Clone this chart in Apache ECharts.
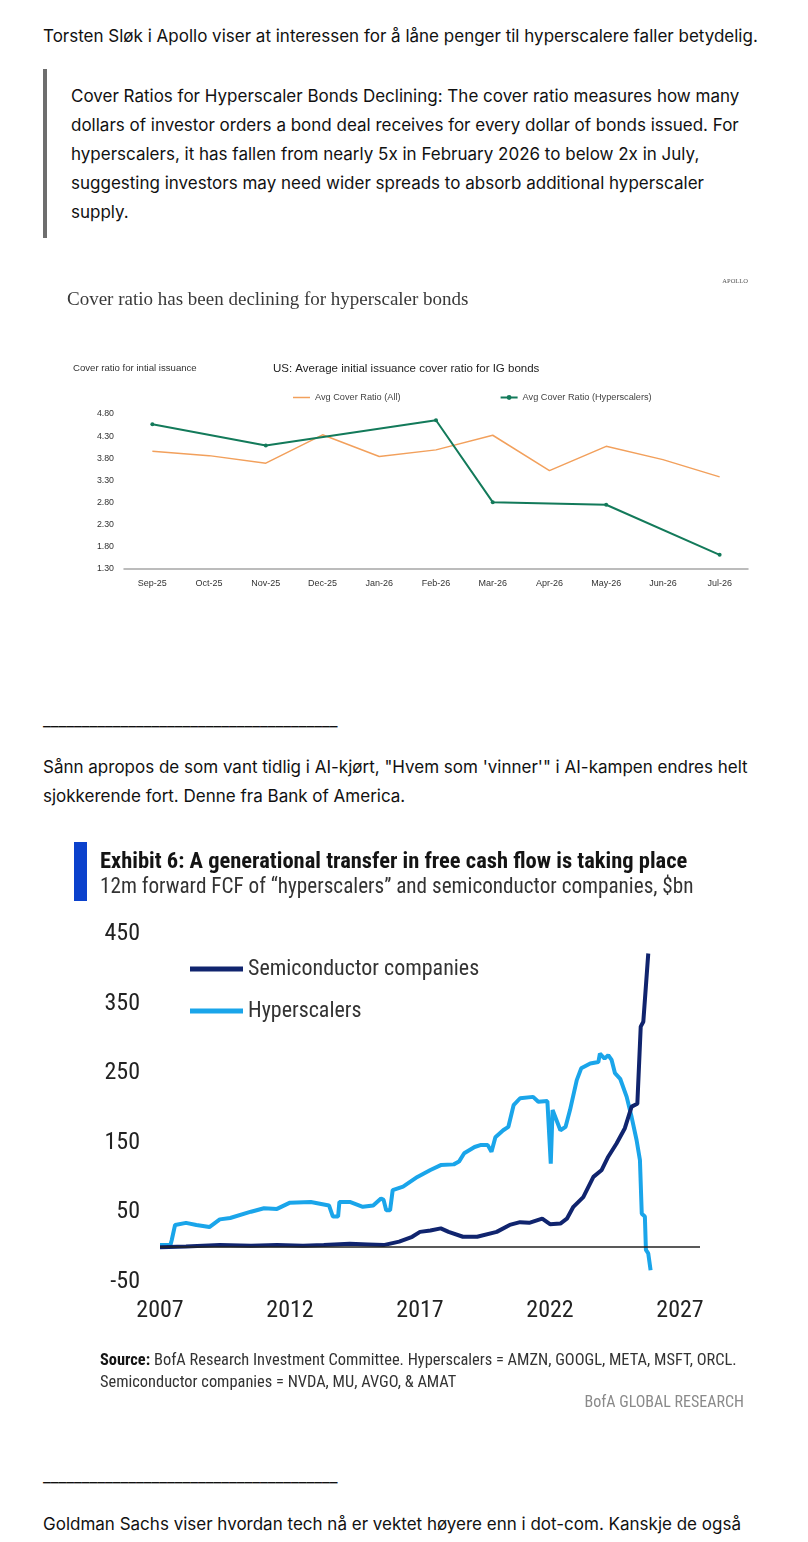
<!DOCTYPE html>
<html lang="no">

<head>
    <meta charset="UTF-8">
    <title>Hyperscalere</title>
    <script type="text/javascript" src="https://cdn.jsdelivr.net/npm/echarts@6/dist/echarts.min.js"></script>
    <style>
        body { margin: 0; background: #fff; width: 808px; height: 1542px; position: relative; overflow: hidden;
               font-family: Inter, "Noto Sans", sans-serif; font-size: 17px; color: #111; }
        .t { position: absolute; left: 43px; white-space: nowrap; line-height: 29px; }
        .bar { position: absolute; left: 43px; top: 69px; width: 4px; height: 169px; background: #6e6e6e; }
        .chart { position: absolute; }
    </style>
</head>

<body>
    <div class="t" style="top:22px;">Torsten Sløk i Apollo viser at interessen for å låne penger til hyperscalere faller betydelig.</div>
    <div class="bar"></div>
    <div class="t" style="left:71px;top:82px;">Cover Ratios for Hyperscaler Bonds Declining: The cover ratio measures how many<br>dollars of investor orders a bond deal receives for every dollar of bonds issued. For<br>hyperscalers, it has fallen from nearly 5x in February 2026 to below 2x in July,<br>suggesting investors may need wider spreads to absorb additional hyperscaler<br>supply.</div>

    <div id="chart1" class="chart" style="left:45px;top:262px;width:720px;height:350px;"></div>

    <div class="t" style="top:706px;">______________________________________</div>
    <div class="t" style="top:753px;">Sånn apropos de som vant tidlig i AI-kjørt, "Hvem som 'vinner'" i AI-kampen endres helt<br>sjokkerende fort. Denne fra Bank of America.</div>

    <div id="chart2" class="chart" style="left:45px;top:833px;width:722px;height:595px;"></div>

    <div class="t" style="top:1462px;">______________________________________</div>
    <div class="t" style="top:1510px;">Goldman Sachs viser hvordan tech nå er vektet høyere enn i dot-com. Kanskje de også</div>

    <script>
        // Apollo: cover ratio per måned
        var months = ['Sep-25', 'Oct-25', 'Nov-25', 'Dec-25', 'Jan-26', 'Feb-26', 'Mar-26', 'Apr-26', 'May-26', 'Jun-26', 'Jul-26'];
        var allRatio = [3.96, 3.86, 3.69, 4.33, 3.84, 3.99, 4.32, 3.52, 4.07, 3.77, 3.38];
        var hyperRatio = [4.57, null, 4.09, null, null, 4.66, 2.81, null, 2.75, null, 1.62];

        // BofA: 12m forward FCF, [år, $bn]
        var hyperFcf = [[2007.0, 3], [2007.4, 3], [2007.45, 10], [2007.58, 32], [2008.0, 35], [2008.4, 32], [2008.9, 29],
            [2009.3, 40], [2009.7, 42], [2010.5, 51], [2011.0, 56], [2011.5, 55], [2012.0, 64], [2012.8, 65], [2013.5, 60],
            [2013.65, 44], [2013.85, 44], [2013.9, 65], [2014.3, 65], [2014.8, 58], [2015.2, 60], [2015.5, 70], [2015.6, 68],
            [2015.7, 53], [2015.85, 53], [2015.95, 82], [2016.35, 87], [2016.9, 101], [2017.4, 111], [2017.8, 118],
            [2018.3, 119], [2018.5, 123], [2018.7, 135], [2019.1, 144], [2019.35, 147], [2019.6, 147], [2019.75, 137],
            [2019.9, 158], [2020.2, 168], [2020.4, 173], [2020.6, 204], [2020.85, 214], [2021.35, 216], [2021.55, 209],
            [2021.9, 210], [2022.03, 120], [2022.1, 197], [2022.4, 168], [2022.6, 173], [2022.77, 197], [2023.03, 240],
            [2023.2, 257], [2023.55, 264], [2023.86, 266], [2023.92, 278], [2024.1, 271], [2024.24, 276], [2024.37, 269],
            [2024.5, 250], [2024.7, 242], [2024.95, 216], [2025.14, 187], [2025.33, 154], [2025.46, 125], [2025.53, 48],
            [2025.65, 44], [2025.69, -4], [2025.78, -9], [2025.87, -33]];
        var semiFcf = [[2007.0, 0], [2008.0, 1], [2009.3, 3], [2010.5, 2], [2011.5, 3], [2012.5, 2], [2013.3, 3],
            [2014.3, 5], [2015.0, 4], [2015.6, 3], [2016.2, 8], [2016.7, 15], [2017.0, 22], [2017.4, 24], [2017.8, 27],
            [2018.1, 22], [2018.65, 15], [2019.2, 15], [2019.95, 22], [2020.45, 32], [2020.85, 36], [2021.2, 35],
            [2021.7, 41], [2022.0, 33], [2022.4, 34], [2022.65, 41], [2022.9, 58], [2023.28, 72], [2023.67, 101],
            [2023.99, 111], [2024.24, 130], [2024.56, 149], [2024.88, 171], [2025.14, 202], [2025.36, 206],
            [2025.49, 317], [2025.59, 324], [2025.78, 422]];

        var sansC = '"Liberation Sans Narrow", "Roboto Condensed", "Liberation Sans", sans-serif';
        var sans = '"Liberation Sans", sans-serif';

        // ---- graf 1: Apollo ----
        var chart1 = echarts.init(document.getElementById('chart1'));
        chart1.setOption({
            animation: false,
            textStyle: { fontFamily: sans },
            graphic: [
                { type: 'text', left: 22, top: 29, style: { text: 'Cover ratio has been declining for hyperscaler bonds', font: '19px "Liberation Serif", serif', fill: '#3a3a3a' } },
                { type: 'text', right: 17, top: 16, style: { text: 'APOLLO', font: '6.5px "Liberation Serif", serif', fill: '#555' } },
                { type: 'text', left: 28, top: 101, style: { text: 'Cover ratio for intial issuance', font: '9.6px ' + sans, fill: '#333' } },
                { type: 'text', left: 228, top: 101, style: { text: 'US: Average initial issuance cover ratio for IG bonds', font: '11.5px ' + sans, fill: '#222' } }
            ],
            legend: {
                left: 243, top: 126, itemWidth: 17, itemHeight: 6, itemGap: 99,
                textStyle: { fontSize: 9.2, color: '#444', fontFamily: sans },
                data: [{ name: 'Avg Cover Ratio (All)', icon: 'path://M0,0L17,0L17,1.5L0,1.5Z' }, 'Avg Cover Ratio (Hyperscalers)']
            },
            grid: { left: 79, right: 17, top: 152, bottom: 43 },
            xAxis: {
                type: 'category', data: months, boundaryGap: true,
                axisLine: { lineStyle: { color: '#a6a6a6', width: 1.5 } },
                axisTick: { show: false },
                axisLabel: { fontSize: 9, color: '#333', margin: 10, fontFamily: sans }
            },
            yAxis: {
                type: 'value', min: 1.3, max: 4.8, interval: 0.5,
                splitLine: { show: false },
                axisLabel: { fontSize: 8.8, color: '#333', margin: 10, fontFamily: sans, formatter: function (v) { return v.toFixed(2); } }
            },
            series: [
                { name: 'Avg Cover Ratio (All)', type: 'line', data: allRatio, symbol: 'none', lineStyle: { color: '#f2a05c', width: 1.5 }, itemStyle: { color: '#f2a05c' } },
                { name: 'Avg Cover Ratio (Hyperscalers)', type: 'line', data: hyperRatio, connectNulls: true, symbol: 'circle', symbolSize: 4,
                  lineStyle: { color: '#137a5a', width: 2 }, itemStyle: { color: '#137a5a' } }
            ]
        });

        // ---- graf 2: BofA ----
        var chart2 = echarts.init(document.getElementById('chart2'));
        chart2.setOption({
            animation: false,
            textStyle: { fontFamily: sansC },
            graphic: [
                { type: 'rect', left: 29, top: 9, shape: { width: 13, height: 59 }, style: { fill: '#0b41cc' } },
                { type: 'text', left: 55, top: 18, style: { text: 'Exhibit 6: A generational transfer in free cash flow is taking place', font: 'bold 22.5px ' + sansC, fill: '#141414' } },
                { type: 'text', left: 55, top: 44, style: { text: '12m forward FCF of \u201chyperscalers\u201d and semiconductor companies, $bn', font: '21.2px ' + sansC, fill: '#333' } },
                { type: 'text', left: 55, top: 517, style: {
                    text: '{b|Source:} BofA Research Investment Committee. Hyperscalers = AMZN, GOOGL, META, MSFT, ORCL.\nSemiconductor companies = NVDA, MU, AVGO, & AMAT',
                    font: '16.4px ' + sansC, fill: '#333', lineHeight: 22,
                    rich: { b: { fontWeight: 'bold', fontSize: 16.4, fontFamily: sansC, fill: '#141414' } }
                } },
                { type: 'text', right: 23, top: 562, style: { text: 'BofA GLOBAL RESEARCH', font: '16px ' + sansC, fill: '#8a8a8a' } }
            ],
            legend: {
                orient: 'vertical', left: 140, top: 120, itemWidth: 53, itemHeight: 5, itemGap: 20, icon: 'rect',
                textStyle: { fontSize: 22, color: '#333', fontFamily: sansC, lineHeight: 22 },
                data: ['Semiconductor companies', 'Hyperscalers']
            },
            grid: { left: 115, right: 67, top: 101, bottom: 146 },
            xAxis: {
                type: 'value', min: 2007, max: 2027.77, interval: 5,
                axisLine: { show: false }, axisTick: { show: false }, splitLine: { show: false },
                axisLabel: { fontSize: 24, color: '#222', margin: 17, showMaxLabel: false, formatter: function (v) { return String(v); } }
            },
            yAxis: {
                type: 'value', min: -50, max: 450, interval: 100,
                axisLine: { show: false }, axisTick: { show: false }, splitLine: { show: false },
                axisLabel: { fontSize: 24, color: '#222', margin: 20 }
            },
            series: [
                { name: 'Hyperscalers', type: 'line', data: hyperFcf, symbol: 'none', lineStyle: { color: '#1aa5ea', width: 4 }, itemStyle: { color: '#1aa5ea' },
                  markLine: { silent: true, symbol: 'none', label: { show: false }, lineStyle: { color: '#222', width: 1.6, type: 'solid' }, data: [{ yAxis: 0 }] } },
                { name: 'Semiconductor companies', type: 'line', data: semiFcf, symbol: 'none', lineStyle: { color: '#10246e', width: 4 }, itemStyle: { color: '#10246e' } }
            ]
        });
    </script>
</body>

</html>
